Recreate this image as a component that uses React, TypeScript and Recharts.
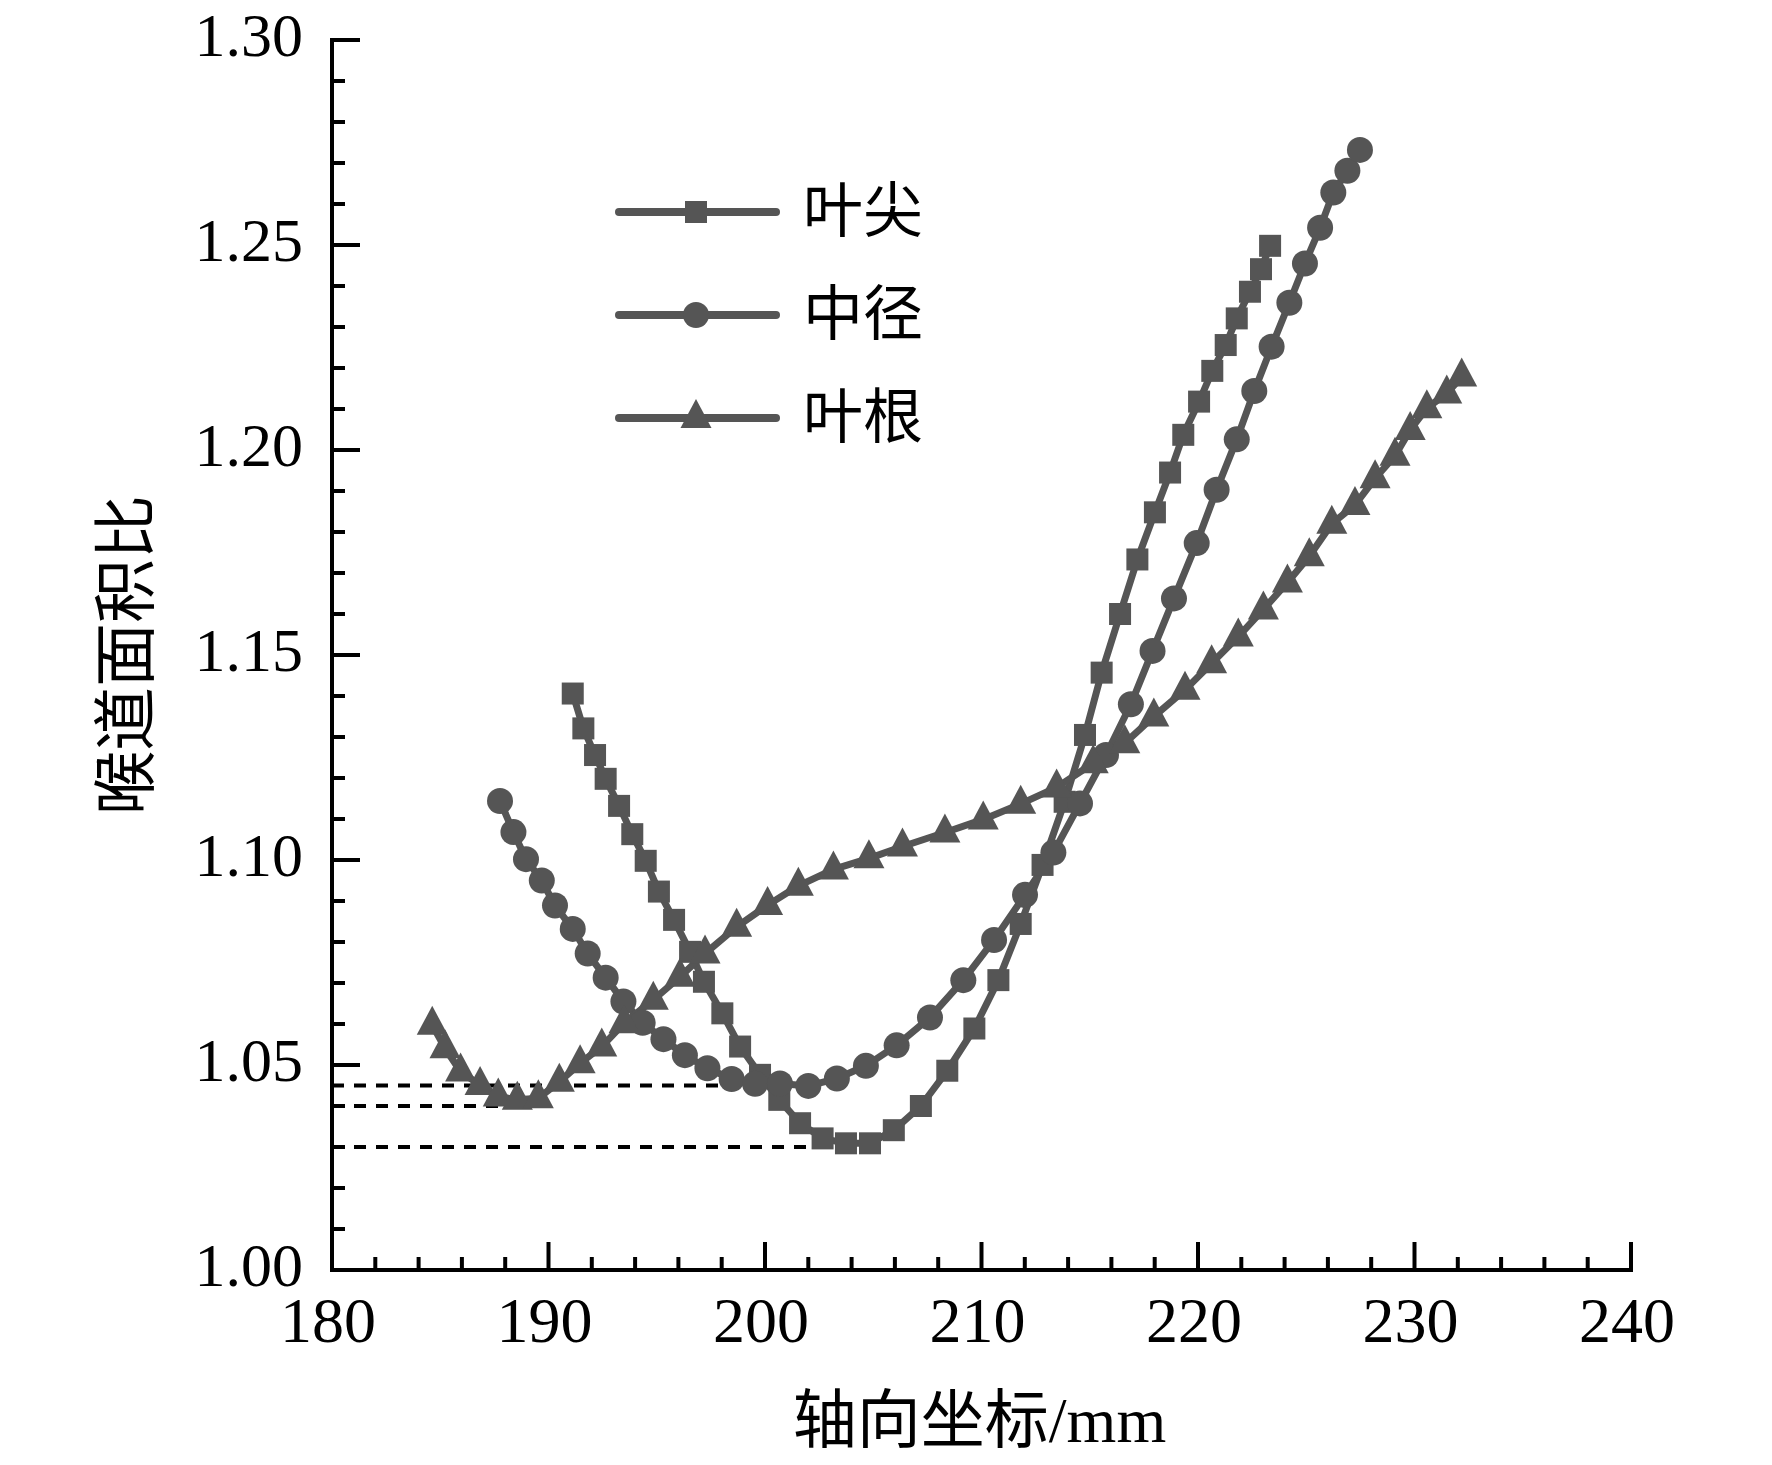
import React from 'react';
import { LineChart, Line, XAxis, YAxis, Legend } from 'recharts';

// ---------- data ----------
const seriesNames = ['叶尖', '中径', '叶根'];

const tipX = [191.12, 191.61, 192.15, 192.64, 193.26, 193.87, 194.49, 195.1, 195.8, 196.54, 197.18, 198.03, 198.85, 199.77, 200.66, 201.62, 202.66, 203.74, 204.85, 205.95, 207.2, 208.42, 209.67, 210.78, 211.81, 212.82, 213.84, 214.78, 215.55, 216.4, 217.2, 218.01, 218.71, 219.32, 220.05, 220.66, 221.28, 221.79, 222.4, 222.91, 223.33];
const tipY = [1.1406, 1.1321, 1.1256, 1.1198, 1.1132, 1.1063, 1.0998, 1.0923, 1.0854, 1.0776, 1.0703, 1.0626, 1.0545, 1.0476, 1.0415, 1.0358, 1.0321, 1.0309, 1.0309, 1.0341, 1.04, 1.0486, 1.0589, 1.0707, 1.0844, 1.0988, 1.1142, 1.1305, 1.1457, 1.16, 1.1733, 1.1848, 1.1945, 1.2037, 1.2118, 1.2193, 1.2256, 1.2321, 1.2386, 1.2441, 1.2498];

const midX = [187.76, 188.38, 188.96, 189.69, 190.3, 191.12, 191.81, 192.64, 193.46, 194.35, 195.31, 196.3, 197.34, 198.46, 199.54, 200.69, 202.0, 203.32, 204.66, 206.08, 207.62, 209.16, 210.58, 212.01, 213.32, 214.55, 215.75, 216.9, 217.9, 218.89, 219.94, 220.86, 221.79, 222.6, 223.4, 224.22, 224.94, 225.64, 226.25, 226.9, 227.48];
const midY = [1.1144, 1.1068, 1.1002, 1.095, 1.0889, 1.0832, 1.0772, 1.0713, 1.0655, 1.0603, 1.0563, 1.0524, 1.0492, 1.0466, 1.0454, 1.0455, 1.0449, 1.0467, 1.0498, 1.0548, 1.0616, 1.0707, 1.0805, 1.0915, 1.1018, 1.1138, 1.1256, 1.138, 1.151, 1.1638, 1.1773, 1.1903, 1.2026, 1.2144, 1.2252, 1.2359, 1.2455, 1.2542, 1.2628, 1.2681, 1.2732];

const rootX = [184.63, 185.22, 185.94, 186.84, 187.68, 188.56, 189.53, 190.5, 191.46, 192.46, 193.49, 194.84, 196.07, 197.23, 198.69, 200.12, 201.54, 203.16, 204.8, 206.35, 208.31, 210.08, 211.81, 213.47, 215.16, 216.62, 217.96, 219.4, 220.63, 221.86, 223.02, 224.13, 225.14, 226.18, 227.25, 228.18, 229.1, 229.8, 230.57, 231.49, 232.18];
const rootY = [1.0598, 1.0541, 1.0484, 1.0451, 1.0423, 1.0415, 1.0419, 1.0459, 1.0504, 1.0545, 1.0602, 1.0659, 1.0715, 1.0772, 1.0837, 1.089, 1.0937, 1.0977, 1.1004, 1.1033, 1.1067, 1.1099, 1.1137, 1.1177, 1.1236, 1.1285, 1.135, 1.1415, 1.148, 1.1545, 1.1611, 1.1677, 1.1741, 1.182, 1.1866, 1.1931, 1.1986, 1.2049, 1.2102, 1.2138, 1.2179];

// dashed guide levels (minimum values) and where they end
const guideLevels = [1.045, 1.04, 1.03];
const guideStart = 180;
const guideEnds = [201.0, 188.6, 203.8];

// tick labels
const xMajorTicks = [180, 190, 200, 210, 220, 230, 240];
const yMajorTicks = ['1.00', '1.05', '1.10', '1.15', '1.20', '1.25', '1.30'];

const xTitle = '轴向坐标/mm';
const yTitle = '喉道面积比';

// ---------- build ----------
const toPts = (xs: number[], ys: number[]) => xs.map((x, i) => ({ x, y: ys[i] }));
const seriesData = [toPts(tipX, tipY), toPts(midX, midY), toPts(rootX, rootY)];
const shapes = ['square', 'circle', 'triangle'];

const xTicksAll: number[] = [];
for (let v = 180; v <= 240; v += 2) xTicksAll.push(v);
const yTicksAll: number[] = [];
for (let i = 0; i <= 30; i++) yTicksAll.push(Math.round((1 + i * 0.01) * 100) / 100);
const yMajorNums = yMajorTicks.map(Number);

const C = '#555555';
const NUM_FONT = "'Liberation Serif', 'Times New Roman', serif";
const CJK_FONT = "'Liberation Serif', 'Noto Sans CJK SC', serif";

const Marker = ({ shape, cx, cy }: { shape: string; cx: number; cy: number }) => {
  if (shape === 'square') return <rect x={cx - 11} y={cy - 11} width={22} height={22} fill={C} />;
  if (shape === 'circle') return <circle cx={cx} cy={cy} r={13} fill={C} />;
  return <path d={`M${cx},${cy - 19} L${cx + 15.5},${cy + 10} L${cx - 15.5},${cy + 10} Z`} fill={C} />;
};

const makeDot = (shape: string) => (p: any) => {
  if (p.cx == null || p.cy == null) return <g key={`e${p.index}`} />;
  return <Marker key={`${shape}${p.index}`} shape={shape} cx={p.cx} cy={p.cy} />;
};

const XTick = (props: any) => {
  const { x, y, payload } = props;
  const v = payload.value;
  const major = xMajorTicks.includes(v);
  return (
    <g>
      <line x1={x} x2={x} y1={y} y2={y - (major ? 28 : 13)} stroke="#000" strokeWidth={4} />
      {major && (
        <text x={x - 4} y={y + 72} textAnchor="middle" fontSize={64} fontFamily={NUM_FONT} fill="#000">
          {v}
        </text>
      )}
    </g>
  );
};

const YTick = (props: any) => {
  const { x, y, payload } = props;
  const v = payload.value;
  const idx = yMajorNums.findIndex((m) => Math.abs(m - v) < 1e-6);
  const major = idx >= 0;
  return (
    <g>
      <line x1={x} x2={x + (major ? 28 : 13)} y1={y} y2={y} stroke="#000" strokeWidth={4} />
      {major && (
        <text x={x - 29} y={y + 16} textAnchor="end" fontSize={62} fontFamily={NUM_FONT} fill="#000">
          {yMajorTicks[idx]}
        </text>
      )}
    </g>
  );
};

const XLabel = (props: any) => {
  const vb = props.viewBox || { x: 332, y: 1270, width: 1299, height: 195 };
  return (
    <text x={vb.x + vb.width / 2 - 2} y={vb.y + 150} textAnchor="middle" dominantBaseline="central" fontSize={64} fontFamily={CJK_FONT} fill="#000">
      {xTitle}
    </text>
  );
};

const YLabel = (props: any) => {
  const vb = props.viewBox || { x: 0, y: 40, width: 332, height: 1230 };
  const cx = vb.x + 126;
  const cy = vb.y + vb.height / 2;
  return (
    <text x={cx} y={cy} transform={`rotate(-90, ${cx}, ${cy})`} textAnchor="middle" dominantBaseline="central" fontSize={64} fontFamily={CJK_FONT} fill="#000">
      {yTitle}
    </text>
  );
};

const renderLegend = () => (
  <div>
    {seriesNames.map((name, i) => (
      <div key={name} style={{ display: 'flex', alignItems: 'center', height: 103 }}>
        <svg width={165} height={40} style={{ display: 'block' }}>
          <line x1={4} x2={161} y1={20} y2={20} stroke={C} strokeWidth={8} strokeLinecap="round" />
          <Marker shape={shapes[i]} cx={81} cy={20} />
        </svg>
        <span style={{ marginLeft: 23, fontSize: 60, fontFamily: CJK_FONT, color: '#000', lineHeight: 1 }}>{name}</span>
      </div>
    ))}
  </div>
);

export default function App() {
  return (
    <div style={{ position: 'absolute', left: 0, top: 0, width: 1772, height: 1465, background: '#fff' }}>
      <LineChart width={1772} height={1465} margin={{ top: 40, right: 141, left: 0, bottom: 0 }}>
        <XAxis
          xAxisId="main"
          type="number"
          dataKey="x"
          domain={[180, 240]}
          allowDataOverflow
          ticks={xTicksAll}
          interval={0}
          tickSize={0}
          tickMargin={0}
          tickLine={false}
          tick={<XTick />}
          height={195}
          axisLine={{ stroke: '#000', strokeWidth: 4, strokeLinecap: 'square' }}
          label={{ content: XLabel } as any}
        />
        <XAxis
          xAxisId="top"
          orientation="top"
          type="number"
          domain={[180, 240]}
          height={0}
          tick={false}
          tickLine={false}
          axisLine={{ stroke: '#000', strokeWidth: 4, strokeLinecap: 'square' }}
        />
        <YAxis
          yAxisId="main"
          type="number"
          domain={[1.0, 1.3]}
          allowDataOverflow
          ticks={yTicksAll}
          interval={0}
          tickSize={0}
          tickMargin={0}
          tickLine={false}
          tick={<YTick />}
          width={332}
          axisLine={{ stroke: '#000', strokeWidth: 4, strokeLinecap: 'square' }}
          label={{ content: YLabel } as any}
        />
        <YAxis
          yAxisId="right"
          orientation="right"
          type="number"
          domain={[1.0, 1.3]}
          width={0}
          tick={false}
          tickLine={false}
          axisLine={{ stroke: '#000', strokeWidth: 4, strokeLinecap: 'square' }}
        />
        {seriesData.map((d, i) => (
          <Line
            key={seriesNames[i]}
            xAxisId="main"
            yAxisId="main"
            data={d}
            dataKey="y"
            name={seriesNames[i]}
            stroke={C}
            strokeWidth={7}
            strokeLinejoin="round"
            dot={makeDot(shapes[i])}
            activeDot={false}
            isAnimationActive={false}
          />
        ))}
        {guideLevels.map((lv, i) => (
          <Line
            key={`g${i}`}
            xAxisId="main"
            yAxisId="main"
            data={[{ x: guideStart, y: lv }, { x: guideEnds[i], y: lv }]}
            dataKey="y"
            stroke="#000"
            strokeWidth={4}
            strokeDasharray="12 10"
            dot={false}
            activeDot={false}
            legendType="none"
            isAnimationActive={false}
          />
        ))}
        <Legend
          layout="vertical"
          align="center"
          verticalAlign="middle"
          wrapperStyle={{ left: 615, top: 160, width: 420 }}
          content={renderLegend}
        />
      </LineChart>
    </div>
  );
}
